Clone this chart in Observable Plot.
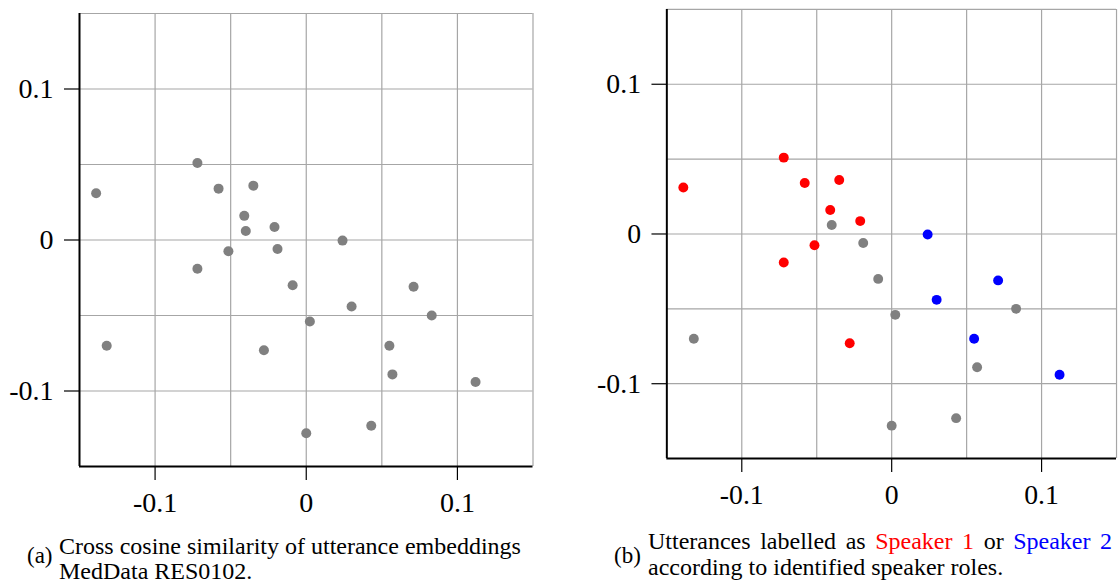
<!DOCTYPE html>
<html>
<head>
<meta charset="utf-8">
<script src="https://cdn.jsdelivr.net/npm/d3@7"></script>
<script src="https://cdn.jsdelivr.net/npm/@observablehq/plot@0.6"></script>
<style>
  html, body { margin: 0; padding: 0; background: #fff; overflow: hidden; }
  #page { position: relative; width: 1120px; height: 581px; overflow: hidden; font-family: "Liberation Serif", "Times New Roman", serif; color: #000; }
  .panel { position: absolute; }
  .cap { position: absolute; font-size: 24px; line-height: 25px; white-space: nowrap; }
</style>
</head>
<body>
<div id="page">
  <div id="left" class="panel" style="left:0px; top:0px;"></div>
  <div id="right" class="panel" style="left:588px; top:-4.5px;"></div>
  <div class="cap" style="left:27px; top:542.5px; font-size:23px;">(a)</div>
  <div class="cap" style="left:59px; top:533.5px;">Cross cosine similarity of utterance embeddings<br>MedData RES0102.</div>
  <div class="cap" style="left:614px; top:542.5px; font-size:23px;">(b)</div>
  <div class="cap" style="left:648px; top:528.5px; width:464px; text-align:justify; text-align-last:justify; white-space:normal;">Utterances labelled as <span style="color:#ff0000">Speaker 1</span> or <span style="color:#0000ff">Speaker 2</span></div>
  <div class="cap" style="left:648px; top:554.5px;">according to identified speaker roles.</div>
</div>
<script>
// Utterance embedding coordinates
const xs = [-0.139, -0.072, -0.058, -0.035, -0.041, -0.040, -0.021, 0.024, -0.0515, -0.019, -0.072, -0.009, 0.071, 0.030, 0.0024, 0.083, -0.132, -0.028, 0.055, 0.057, 0.112, 0.043, 0.000];
const ys = [0.031, 0.051, 0.034, 0.036, 0.016, 0.006, 0.0086, -0.0004, -0.0075, -0.006, -0.019, -0.030, -0.031, -0.044, -0.054, -0.050, -0.070, -0.073, -0.070, -0.089, -0.094, -0.123, -0.128];
const roles = ["S1", "S1", "S1", "S1", "S1", "O", "S1", "S2", "S1", "O", "S1", "O", "S2", "S2", "O", "O", "O", "S1", "S2", "O", "S2", "O", "O"];
const roleColors = {O: "#808080", S1: "#ff0000", S2: "#0000ff"};

const tickValues = [-0.1, 0, 0.1];
const tickLabels = ["-0.1", "0", "0.1"];
const gridValues = [-0.1, -0.05, 0, 0.05, 0.1, 0.15];
const domain = [-0.15, 0.15];

const points = xs.map((x, i) => ({x, y: ys[i], role: roles[i]}));

function panel(colored) {
  const fmt = d => tickLabels[tickValues.indexOf(d)];
  const font = "'Liberation Serif', 'Times New Roman', serif";
  return Plot.plot({
    width: 79 + 453.5 + 4,
    height: 13 + 453 + 75,
    marginLeft: 79,
    marginRight: 4,
    marginTop: 13,
    marginBottom: 75,
    x: {domain, axis: null},
    y: {domain, axis: null},
    color: {type: "identity"},
    style: {fontFamily: font, background: "white", overflow: "visible"},
    marks: [
      Plot.gridX(gridValues, {stroke: "#a6a6a6", strokeOpacity: 1, strokeWidth: 1.2}),
      Plot.gridY(gridValues, {stroke: "#a6a6a6", strokeOpacity: 1, strokeWidth: 1.2}),
      Plot.axisX({ticks: tickValues, tickFormat: fmt, tickSize: 14, tickPadding: 12, fontSize: 28, fontFamily: font, label: null, stroke: "#000", strokeWidth: 1.2}),
      Plot.axisY({ticks: tickValues, tickFormat: fmt, tickSize: 15, tickPadding: 11, fontSize: 28, fontFamily: font, label: null, stroke: "#000", strokeWidth: 1.2}),
      Plot.ruleX([domain[0]], {stroke: "#000", strokeWidth: 2}),
      Plot.ruleY([domain[0]], {stroke: "#000", strokeWidth: 2}),
      Plot.dot(points, {x: "x", y: "y", r: 5, stroke: null, fill: d => colored ? roleColors[d.role] : roleColors.O})
    ]
  });
}

document.getElementById("left").appendChild(panel(false));
document.getElementById("right").appendChild(panel(true));
</script>
</body>
</html>
